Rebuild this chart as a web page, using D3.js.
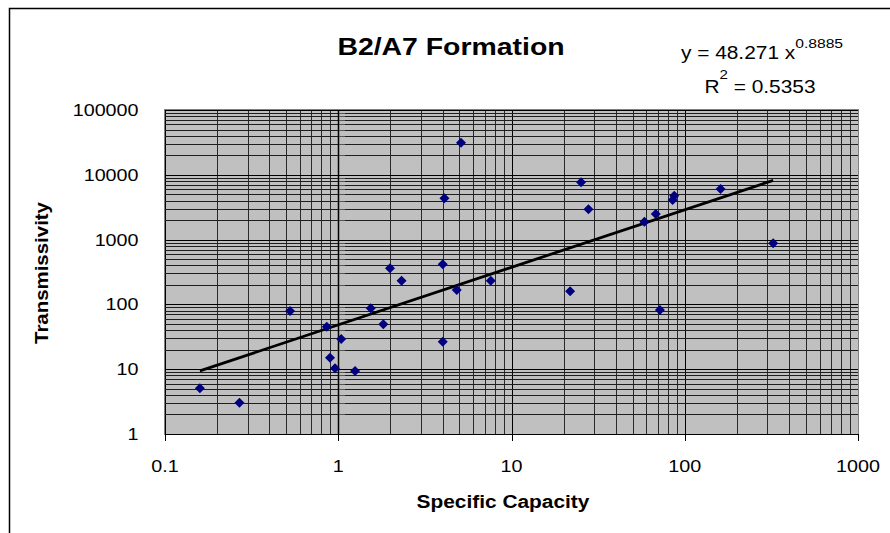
<!DOCTYPE html>
<html>
<head>
<meta charset="utf-8">
<script src="https://cdn.jsdelivr.net/npm/d3@7"></script>
<style>
  html, body { margin: 0; padding: 0; background: #fff; }
  svg { display: block; font-family: "Liberation Sans", Arial, sans-serif; }
</style>
</head>
<body>
<div id="chart"></div>
<script>
// well data: specific capacity vs transmissivity
const specificCapacity = [0.159, 0.269, 0.527, 0.858, 0.896, 0.958, 1.04, 1.25, 1.54, 1.82,
  1.99, 2.32, 4.01, 4.01, 4.10, 4.83, 5.11, 7.59, 21.8, 25.2, 27.8, 58.5, 68, 71.9, 85.1, 87, 161, 324];
const transmissivity = [5.1, 3.04, 79, 45.3, 15.0, 10.3, 29.2, 9.4, 87, 49.3,
  361, 232, 416, 26.6, 4340, 167, 31300, 232, 159, 7660, 2935, 1890, 2483, 82, 4085, 4760, 6040, 877];

// power trendline y = a * x^b
const trendA = 48.271;
const trendB = 0.8885;
const trendR2 = 0.5353;

const xTickLabels = ['0.1', '1', '10', '100', '1000'];
const yTickLabels = ['1', '10', '100', '1000', '10000', '100000'];

const width = 890, height = 533;
const plot = { left: 165, right: 858, top: 110, bottom: 434 };
const stretch = 1.16;

const svg = d3.select('#chart').append('svg')
  .attr('width', width)
  .attr('height', height);

// chart area frame
svg.append('rect')
  .attr('x', 9.5).attr('y', 8.5)
  .attr('width', 900).attr('height', 540)
  .attr('fill', '#fff')
  .attr('stroke', '#000')
  .attr('stroke-width', 1.5);

const x = d3.scaleLog().domain([0.1, 1000]).range([plot.left, plot.right]);
const y = d3.scaleLog().domain([1, 100000]).range([plot.bottom, plot.top]);

const isDecade = v => Math.abs(Math.log10(v) - Math.round(Math.log10(v))) < 1e-9;

// plot area
svg.append('rect')
  .attr('x', plot.left).attr('y', plot.top)
  .attr('width', plot.right - plot.left)
  .attr('height', plot.bottom - plot.top)
  .attr('fill', '#c0c0c0');

const grid = svg.append('g')
  .attr('class', 'grid')
  .attr('shape-rendering', 'crispEdges');

grid.selectAll('.vgrid')
  .data(x.ticks())
  .enter().append('line')
  .attr('class', 'vgrid')
  .attr('x1', d => Math.round(x(d)) + 0.5).attr('x2', d => Math.round(x(d)) + 0.5)
  .attr('y1', plot.top).attr('y2', plot.bottom)
  .attr('stroke', d => isDecade(d) ? '#000' : '#2a2a2a');

grid.selectAll('.hgrid')
  .data(y.ticks())
  .enter().append('line')
  .attr('class', 'hgrid')
  .attr('x1', plot.left).attr('x2', plot.right)
  .attr('y1', d => Math.round(y(d)) + 0.5).attr('y2', d => Math.round(y(d)) + 0.5)
  .attr('stroke', d => isDecade(d) ? '#000' : '#1e1e1e');

// plot area border
svg.append('rect')
  .attr('x', plot.left - 0.5).attr('y', plot.top - 0.5)
  .attr('width', plot.right - plot.left + 1)
  .attr('height', plot.bottom - plot.top + 1)
  .attr('fill', 'none')
  .attr('stroke', '#808080')
  .attr('shape-rendering', 'crispEdges');

// x axis along the bottom
const xAxis = svg.append('g')
  .attr('class', 'axis axis-x')
  .attr('transform', `translate(0, ${plot.bottom})`)
  .call(d3.axisBottom(x).tickValues(x.ticks().filter(isDecade)).tickSize(7).tickFormat(''));
xAxis.select('.domain').attr('stroke', '#000').attr('shape-rendering', 'crispEdges');
xAxis.selectAll('.tick line').attr('stroke', '#000').attr('shape-rendering', 'crispEdges');

// y axis crosses at x = 1, labels kept at the left edge
const yAxis = svg.append('g')
  .attr('class', 'axis axis-y')
  .attr('transform', `translate(${Math.round(x(1)) + 0.5}, 0)`);
yAxis.append('line')
  .attr('y1', plot.top).attr('y2', plot.bottom)
  .attr('stroke', '#000').attr('stroke-width', 1.5);
yAxis.selectAll('.minor')
  .data(y.ticks())
  .enter().append('line')
  .attr('class', 'minor')
  .attr('x1', d => isDecade(d) ? -4 : 0).attr('x2', 6)
  .attr('y1', d => Math.round(y(d)) + 0.5).attr('y2', d => Math.round(y(d)) + 0.5)
  .attr('stroke', d => isDecade(d) ? '#000' : '#555')
  .attr('shape-rendering', 'crispEdges');

// text helper: fonts in this chart are drawn a bit wider than normal
function label(sel, px, py, str, opts) {
  const o = Object.assign({ size: 17, weight: 'normal', anchor: 'middle', rotate: 0, sx: stretch }, opts);
  const g = sel.append('g')
    .attr('transform', `translate(${px}, ${py}) rotate(${o.rotate}) scale(${o.sx}, 1)`);
  return g.append('text')
    .attr('text-anchor', o.anchor)
    .attr('font-size', o.size)
    .attr('font-weight', o.weight)
    .attr('fill', '#000')
    .text(str);
}

const yTickVals = y.ticks().filter(isDecade);
yTickVals.forEach((v, i) => {
  label(svg, 138.5, y(v) + 6, yTickLabels[i], { anchor: 'end' });
});

const xTickVals = x.ticks().filter(isDecade);
xTickVals.forEach((v, i) => {
  label(svg, x(v), 472, xTickLabels[i]);
});

// titles
label(svg, 451, 55, 'B2/A7 Formation', { size: 24.5, weight: 'bold' });
label(svg, 503, 508, 'Specific Capacity', { size: 18, weight: 'bold' });
label(svg, 48, 273, 'Transmissivity', { size: 18, weight: 'bold', rotate: -90, sx: 1.135 });

// trendline equation
const eq1 = label(svg, 762, 59, '', { size: 18 });
eq1.append('tspan').text(`y = ${trendA} x`);
eq1.append('tspan').attr('font-size', 13.5).attr('dy', -11).text(trendB);

const eq2 = label(svg, 760, 92.5, '', { size: 18 });
eq2.append('tspan').text('R');
eq2.append('tspan').attr('font-size', 13).attr('dy', -14).text('2');
eq2.append('tspan').attr('dy', 14).text(` = ${trendR2}`);

// power trendline, straight on log-log axes
const xMin = d3.min(specificCapacity), xMax = d3.max(specificCapacity);
const trendPts = [xMin, xMax].map(v => [x(v), y(trendA * Math.pow(v, trendB))]);
svg.append('path')
  .attr('d', d3.line()(trendPts))
  .attr('stroke', '#000')
  .attr('stroke-width', 2.8)
  .attr('fill', 'none');

// diamond markers
const diamond = {
  draw(ctx, size) {
    const r = Math.sqrt(size / 2);
    ctx.moveTo(0, -r);
    ctx.lineTo(r, 0);
    ctx.lineTo(0, r);
    ctx.lineTo(-r, 0);
    ctx.closePath();
  }
};

const points = specificCapacity.map((c, i) => ({ c: c, t: transmissivity[i] }));
svg.append('g')
  .attr('class', 'points')
  .selectAll('path')
  .data(points)
  .enter().append('path')
  .attr('transform', d => `translate(${x(d.c)}, ${y(d.t)})`)
  .attr('d', d3.symbol(diamond, 50))
  .attr('fill', '#000080');
</script>
</body>
</html>
